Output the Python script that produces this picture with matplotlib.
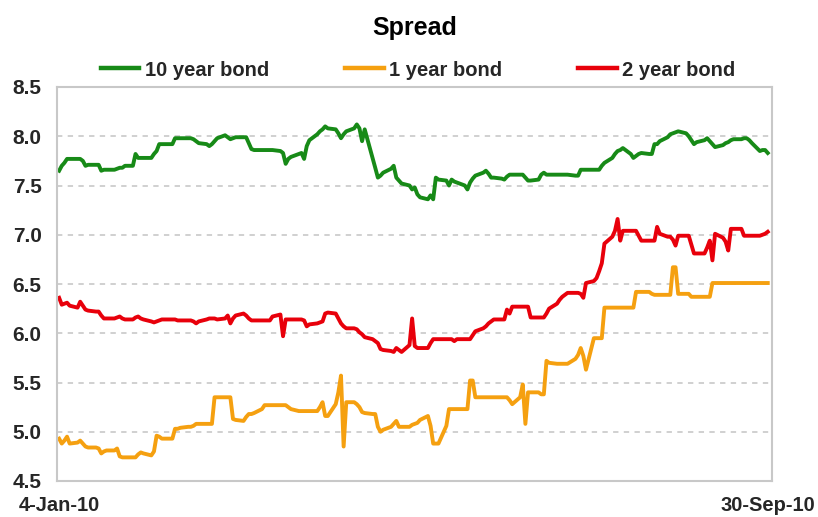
import matplotlib
matplotlib.use("Agg")
import matplotlib.pyplot as plt
import pandas as pd

plt.rcParams['font.family'] = ['Liberation Sans', 'DejaVu Sans']

title = "Spread"
series_names = ["10 year bond", "1 year bond", "2 year bond"]
start_date, end_date = "2010-01-04", "2010-09-30"
x_tick_labels = ["4-Jan-10", "30-Sep-10"]
y_ticks = [4.5, 5.0, 5.5, 6.0, 6.5, 7.0, 7.5, 8.0, 8.5]

bond_10y = [
    7.65, 7.70, 7.73, 7.77, 7.77, 7.77, 7.77, 7.75, 7.70, 7.71,
    7.71, 7.71, 7.65, 7.66, 7.66, 7.66, 7.67, 7.68, 7.68, 7.70,
    7.70, 7.82, 7.78, 7.78, 7.78, 7.78, 7.82, 7.85, 7.92, 7.92,
    7.92, 7.92, 7.98, 7.98, 7.98, 7.98, 7.98, 7.97, 7.95, 7.93,
    7.92, 7.90, 7.92, 7.95, 7.98, 8.01, 7.99, 7.97, 7.98, 7.99,
    7.99, 7.99, 7.93, 7.87, 7.86, 7.86, 7.86, 7.86, 7.86, 7.86,
    7.85, 7.83, 7.72, 7.77, 7.79, 7.82, 7.83, 7.77, 7.90, 7.96,
    8.02, 8.05, 8.07, 8.10, 8.08, 8.07, 8.03, 7.98, 8.02, 8.05,
    8.08, 8.12, 8.08, 7.95, 8.07, 7.78, 7.68, 7.58, 7.60, 7.63,
    7.67, 7.70, 7.58, 7.55, 7.52, 7.50, 7.46, 7.48, 7.41, 7.38,
    7.36, 7.40, 7.36, 7.58, 7.56, 7.55, 7.50, 7.56, 7.54, 7.53,
    7.50, 7.46, 7.53, 7.57, 7.60, 7.63, 7.65, 7.62, 7.58, 7.58,
    7.57, 7.56, 7.59, 7.61, 7.61, 7.61, 7.61, 7.58, 7.55, 7.55,
    7.56, 7.61, 7.63, 7.61, 7.61, 7.61, 7.61, 7.61, 7.61, 7.61,
    7.60, 7.60, 7.66, 7.66, 7.66, 7.66, 7.66, 7.66, 7.70, 7.73,
    7.78, 7.82, 7.85, 7.86, 7.88, 7.82, 7.78, 7.80, 7.82, 7.83,
    7.82, 7.82, 7.92, 7.92, 7.95, 7.99, 8.02, 8.03, 8.04, 8.05,
    8.03, 8.00, 7.96, 7.92, 7.94, 7.96, 7.98, 7.95, 7.92, 7.89,
    7.91, 7.93, 7.94, 7.96, 7.97, 7.97, 7.98, 7.98, 7.96, 7.93,
    7.85, 7.86, 7.86, 7.83,
]

bond_1y = [
    4.93, 4.88, 4.91, 4.95, 4.88, 4.89, 4.91, 4.88, 4.85, 4.84,
    4.84, 4.83, 4.78, 4.80, 4.81, 4.81, 4.83, 4.75, 4.74, 4.74,
    4.74, 4.74, 4.77, 4.79, 4.78, 4.76, 4.80, 4.96, 4.95, 4.93,
    4.93, 4.93, 5.03, 5.03, 5.04, 5.05, 5.05, 5.06, 5.08, 5.08,
    5.08, 5.08, 5.08, 5.35, 5.35, 5.35, 5.35, 5.35, 5.13, 5.12,
    5.11, 5.15, 5.18, 5.18, 5.19, 5.23, 5.27, 5.27, 5.27, 5.27,
    5.27, 5.27, 5.27, 5.25, 5.23, 5.21, 5.21, 5.21, 5.21, 5.21,
    5.21, 5.25, 5.30, 5.16, 5.16, 5.28, 5.40, 5.57, 4.85, 5.30,
    5.30, 5.28, 5.25, 5.20, 5.19, 5.18, 5.18, 5.05, 5.00, 5.02,
    5.05, 5.08, 5.11, 5.05, 5.05, 5.05, 5.07, 5.08, 5.09, 5.12,
    5.16, 5.06, 4.88, 4.88, 4.88, 5.06, 5.23, 5.23, 5.23, 5.23,
    5.23, 5.23, 5.52, 5.52, 5.35, 5.35, 5.35, 5.35, 5.35, 5.35,
    5.35, 5.35, 5.35, 5.32, 5.28, 5.35, 5.48, 5.08, 5.40, 5.40,
    5.40, 5.38, 5.38, 5.72, 5.70, 5.69, 5.69, 5.69, 5.69, 5.69,
    5.74, 5.78, 5.85, 5.77, 5.63, 5.95, 5.95, 5.95, 5.95, 6.26,
    6.26, 6.26, 6.26, 6.26, 6.26, 6.26, 6.26, 6.42, 6.42, 6.42,
    6.42, 6.40, 6.39, 6.39, 6.39, 6.39, 6.39, 6.67, 6.67, 6.40,
    6.40, 6.40, 6.37, 6.37, 6.37, 6.37, 6.37, 6.37, 6.51, 6.51,
    6.51, 6.51, 6.51, 6.51, 6.51, 6.51, 6.51, 6.51, 6.51, 6.51,
    6.51, 6.51, 6.51, 6.51,
]

bond_2y = [
    6.36, 6.29, 6.30, 6.31, 6.28, 6.26, 6.32, 6.28, 6.24, 6.23,
    6.22, 6.22, 6.18, 6.15, 6.15, 6.15, 6.16, 6.17, 6.15, 6.14,
    6.14, 6.16, 6.17, 6.15, 6.14, 6.12, 6.11, 6.12, 6.13, 6.14,
    6.14, 6.14, 6.14, 6.13, 6.13, 6.13, 6.13, 6.12, 6.10, 6.12,
    6.14, 6.15, 6.15, 6.15, 6.14, 6.15, 6.18, 6.10, 6.15, 6.18,
    6.20, 6.18, 6.15, 6.13, 6.13, 6.13, 6.13, 6.13, 6.13, 6.17,
    6.19, 5.97, 6.14, 6.14, 6.14, 6.14, 6.14, 6.13, 6.07, 6.09,
    6.10, 6.11, 6.12, 6.20, 6.21, 6.20, 6.15, 6.10, 6.07, 6.05,
    6.05, 6.04, 6.01, 5.99, 5.96, 5.94, 5.92, 5.90, 5.84, 5.83,
    5.82, 5.81, 5.85, 5.83, 5.81, 5.88, 6.15, 5.87, 5.85, 5.85,
    5.85, 5.90, 5.94, 5.94, 5.94, 5.94, 5.94, 5.94, 5.92, 5.94,
    5.94, 5.94, 5.94, 5.98, 6.02, 6.05, 6.07, 6.10, 6.12, 6.14,
    6.14, 6.14, 6.24, 6.20, 6.27, 6.27, 6.27, 6.27, 6.27, 6.16,
    6.16, 6.16, 6.16, 6.20, 6.25, 6.30, 6.34, 6.37, 6.39, 6.41,
    6.41, 6.41, 6.40, 6.36, 6.51, 6.53, 6.56, 6.63, 6.71, 6.91,
    6.98, 7.04, 7.16, 6.94, 7.04, 7.04, 7.04, 7.04, 6.99, 6.94,
    6.94, 6.94, 6.94, 7.08, 7.01, 6.98, 6.98, 6.95, 6.89, 6.99,
    6.99, 6.99, 6.90, 6.81, 6.81, 6.81, 6.87, 6.94, 6.74, 7.01,
    6.97, 6.93, 6.84, 7.06, 7.06, 7.06, 6.99, 6.99, 6.99, 6.99,
    6.99, 7.00, 7.01, 7.03,
]

colors = ["#178a17", "#f5a010", "#e8000b"]
text_color = "#262626"

dates = pd.bdate_range(start_date, end_date)
assert len(dates) == len(bond_10y) == len(bond_1y) == len(bond_2y)

fig = plt.figure(figsize=(8.18, 5.17), dpi=100)
ax = fig.add_axes([57 / 818, 1 - 481 / 517, (772 - 57) / 818, (481 - 87) / 517])

for vals, name, c in zip([bond_10y, bond_1y, bond_2y], series_names, colors):
    ax.plot(dates, vals, color=c, lw=2.8, label=name, solid_joinstyle='round')

ax.set_ylim(4.5, 8.5)
ax.set_yticks(y_ticks)
ax.set_yticklabels([f"{v:.1f}" for v in y_ticks])
span = dates[-1] - dates[0]
ax.set_xlim(dates[0] - span * 0.003, dates[-1] + span * 0.006)
ax.set_xticks([dates[0], dates[-1]])
ax.set_xticklabels(x_tick_labels)

ax.grid(axis='y', color='#c4c4c4', linestyle=(0, (3.5, 3.5)), lw=1.1)
ax.set_axisbelow(True)
for s in ax.spines.values():
    s.set_color('#c8c8c8')
    s.set_linewidth(1.5)

ax.tick_params(axis='both', length=0, colors=text_color)
ax.tick_params(axis='y', pad=11, labelsize=15)
ax.tick_params(axis='x', pad=11, labelsize=14.5)
for lab in ax.get_xticklabels() + ax.get_yticklabels():
    lab.set_fontweight('bold')

fig.text(415 / 818, 1 - 28 / 517, title, ha='center', va='center',
         fontsize=18, fontweight='bold', color='black')

leg = fig.legend(loc='center', bbox_to_anchor=(418 / 818, 1 - 70 / 517), ncol=3,
                 frameon=False, handlelength=1.9, handletextpad=0.25,
                 columnspacing=3.8, prop={'weight': 'bold', 'size': 14.5})
for t in leg.get_texts():
    t.set_color(text_color)
for h in leg.get_lines():
    h.set_linewidth(3.2)

fig.savefig("out.png", dpi=100, facecolor='white')
